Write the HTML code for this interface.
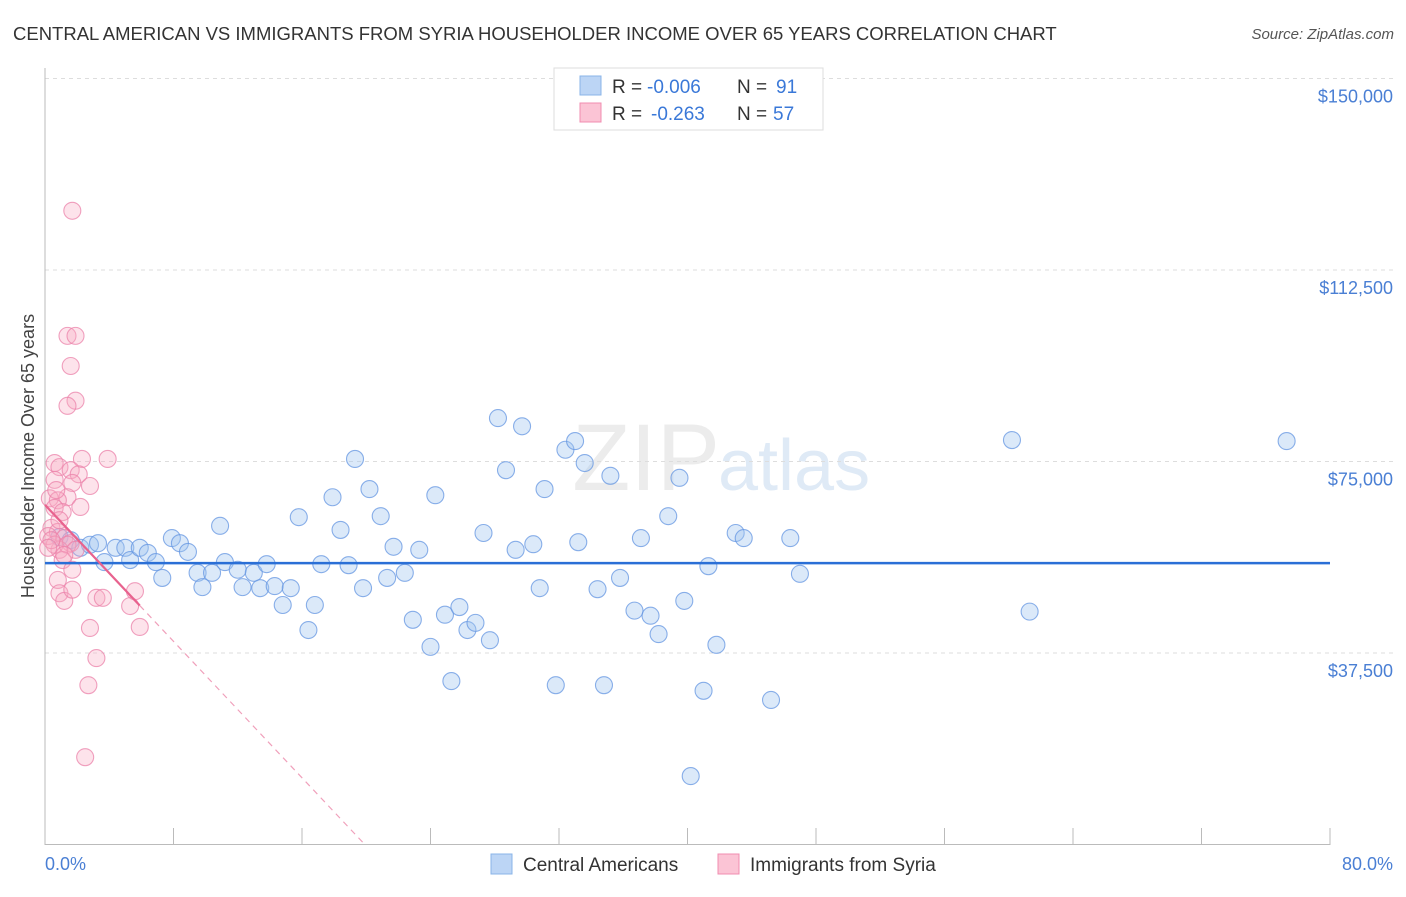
<!DOCTYPE html>
<html><head><meta charset="utf-8"><style>
body{margin:0;background:#fff;font-family:"Liberation Sans",sans-serif}
svg text{font-family:"Liberation Sans",sans-serif}
</style></head><body>
<svg id="chart" width="1406" height="892" xmlns="http://www.w3.org/2000/svg">
<text x="13" y="40" font-size="18.5" fill="#333">CENTRAL AMERICAN VS IMMIGRANTS FROM SYRIA HOUSEHOLDER INCOME OVER 65 YEARS CORRELATION CHART</text>
<text x="1394" y="39" font-size="15" fill="#555" font-style="italic" text-anchor="end">Source: ZipAtlas.com</text>
<text x="720" y="490" font-size="95" fill="#ececec" text-anchor="end" font-family="Liberation Serif">ZIP</text>
<text x="718" y="490" font-size="72" fill="#dfeaf6">atlas</text>
<g id="grid"></g><g id="axes"></g><g id="pts"></g><g id="trend"></g>
<text transform="translate(34,456) rotate(-90)" font-size="18" fill="#444" text-anchor="middle">Householder Income Over 65 years</text>
<text x="45" y="870" font-size="18" fill="#4a7fd4">0.0%</text>
<text x="1393" y="870" font-size="18" fill="#4a7fd4" text-anchor="end">80.0%</text>
<g>
<rect x="554" y="68" width="269" height="62" fill="#fff" stroke="#ddd"/>
<rect x="580" y="76" width="21" height="19" fill="#bcd5f5" stroke="#8ab4e8"/>
<rect x="580" y="103" width="21" height="19" fill="#fbc4d5" stroke="#f08cb0"/>
<text x="612" y="93" font-size="19" fill="#333">R =</text>
<text x="647" y="93" font-size="19" fill="#3a78d8">-0.006</text>
<text x="737" y="93" font-size="19" fill="#333">N =</text>
<text x="776" y="93" font-size="19" fill="#3a78d8">91</text>
<text x="612" y="120" font-size="19" fill="#333">R =</text>
<text x="651" y="120" font-size="19" fill="#3a78d8">-0.263</text>
<text x="737" y="120" font-size="19" fill="#333">N =</text>
<text x="773" y="120" font-size="19" fill="#3a78d8">57</text>
</g>
<g>
<rect x="491" y="854" width="21" height="20" fill="#bcd5f5" stroke="#8ab4e8"/>
<text x="523" y="871" font-size="19" fill="#333">Central Americans</text>
<rect x="718" y="854" width="21" height="20" fill="#fbc4d5" stroke="#f08cb0"/>
<text x="750" y="871" font-size="19" fill="#333">Immigrants from Syria</text>
</g>
</svg>
<script>
const yTicks=[37500,75000,112500,150000];
const yTickLabels=["$37,500","$75,000","$112,500","$150,000"];
const xTicks=[0,8,16,24,32,40,48,56,64,72,80];
const blueX=[0.9,1.6,2.2,2.8,3.3,3.7,4.4,5.0,5.3,5.9,6.4,6.9,7.3,7.9,8.4,8.9,9.5,9.8,10.4,10.9,11.2,12.0,12.3,13.0,13.4,13.8,14.3,14.8,15.3,15.8,16.4,16.8,17.2,17.9,18.4,18.9,19.3,19.8,20.2,20.9,21.3,21.7,22.4,22.9,23.3,24.0,24.3,24.9,25.3,25.8,26.3,26.8,27.3,27.7,28.2,28.7,29.3,29.7,30.4,30.8,31.1,32.4,33.0,33.2,33.6,34.4,35.2,35.8,31.8,34.8,36.7,37.1,37.7,38.2,38.8,39.5,39.8,40.2,41.0,41.3,41.8,43.0,43.5,45.2,46.4,47.0,60.2,61.3,77.3];
const blueY=[60.2,59.6,58.1,58.7,59.0,55.3,58.1,58.1,55.7,58.1,57.1,55.3,52.2,60.0,59.0,57.3,53.2,50.4,53.2,62.4,55.3,53.8,50.4,53.2,50.2,54.9,50.6,46.9,50.2,64.1,42.0,46.9,54.9,68.0,61.6,54.7,75.5,50.2,69.6,64.3,52.2,58.3,53.2,44.0,57.7,38.7,68.4,45.0,32.0,46.5,42.0,43.4,61.0,40.0,83.5,73.3,57.7,81.9,58.8,50.2,69.6,77.3,79.0,59.2,74.7,50.0,72.2,52.2,31.2,31.2,45.8,60.0,44.8,41.2,64.3,71.8,47.7,13.4,30.1,54.5,39.1,61.0,60.0,28.3,60.0,53.0,79.2,45.6,79.0];
const pinkX=[1.7,1.4,1.9,1.6,1.9,1.4,3.9,2.3,0.6,2.8,0.9,1.6,2.1,1.7,1.4,0.3,0.8,0.6,1.1,2.2,0.4,0.8,0.2,1.2,1.6,0.9,0.6,1.4,1.1,1.7,0.8,0.9,1.2,1.7,3.2,3.6,5.3,5.6,5.9,2.8,3.2,2.7,2.5,0.6,0.4,0.9,1.9,0.2,1.2,0.7];
const pinkY=[124.1,99.6,99.6,93.7,86.9,85.9,75.5,75.5,74.7,70.2,73.9,73.3,72.5,70.8,68.0,67.8,67.4,65.9,65.1,66.1,62.0,61.2,60.4,60.0,59.0,57.7,58.7,58.7,55.7,53.8,51.8,49.2,47.7,49.9,48.3,48.3,46.7,49.6,42.6,42.4,36.5,31.2,17.1,71.4,59.6,63.5,57.7,58.1,56.7,69.4];
const blueTrend=[55.1,55.1];
const pinkTrend=[66.5,-3.34];
const NS="http://www.w3.org/2000/svg";
const X=p=>45+p*(1285/80);
const Y=v=>844.5-v*(191.5/37.5);
function mk(t,a,parent){const e=document.createElementNS(NS,t);for(const k in a)e.setAttribute(k,a[k]);document.getElementById(parent).appendChild(e);return e;}
yTicks.forEach((t,i)=>{
 const l=mk('line',{x1:45,x2:1394,y1:Y(t/1000),y2:Y(t/1000),stroke:'#ddd','stroke-dasharray':'4,4'},'grid');
 
 
 const tx=mk('text',{x:1393,y:Y(t/1000)+24,'font-size':18,fill:'#4a7fd4','text-anchor':'end'},'grid');
 tx.textContent=yTickLabels[i];
 
 
});
const ax=mk('line',{x1:45,x2:1330,y1:844.5,y2:844.5,stroke:'#bbb'},'axes');


const ay=mk('line',{x1:45,x2:45,y1:68,y2:845,stroke:'#bbb'},'axes');


xTicks.forEach(t=>{
 const l=mk('line',{x1:X(t),x2:X(t),y1:828,y2:845,stroke:'#bbb'},'axes');
 
 
});
blueX.forEach((x,i)=>{
 const c=mk('circle',{cx:X(x),cy:Y(blueY[i]),r:8.5,fill:'rgba(160,196,240,0.38)',stroke:'rgba(100,150,225,0.75)','stroke-width':1.1},'pts');
 
 
});
pinkX.forEach((x,i)=>{
 const c=mk('circle',{cx:X(x),cy:Y(pinkY[i]),r:8.5,fill:'rgba(248,170,195,0.33)',stroke:'rgba(235,130,170,0.75)','stroke-width':1.1},'pts');
 
 
});
const bt=mk('line',{x1:X(0),x2:X(80),y1:Y(blueTrend[0]),y2:Y(blueTrend[1]),stroke:'#2a6fd6','stroke-width':2.5},'trend');


const pf=x=>pinkTrend[0]+pinkTrend[1]*x;
const ps=mk('line',{x1:X(0),x2:X(5.9),y1:Y(pf(0)),y2:Y(pf(5.9)),stroke:'#e8628e','stroke-width':2.2},'trend');


const xe=-pinkTrend[0]/pinkTrend[1];
const pd=mk('line',{x1:X(5.9),x2:X(xe),y1:Y(pf(5.9)),y2:Y(0),stroke:'#f0a0bb','stroke-width':1.2,'stroke-dasharray':'6,5'},'trend');


</script>
</body></html>
